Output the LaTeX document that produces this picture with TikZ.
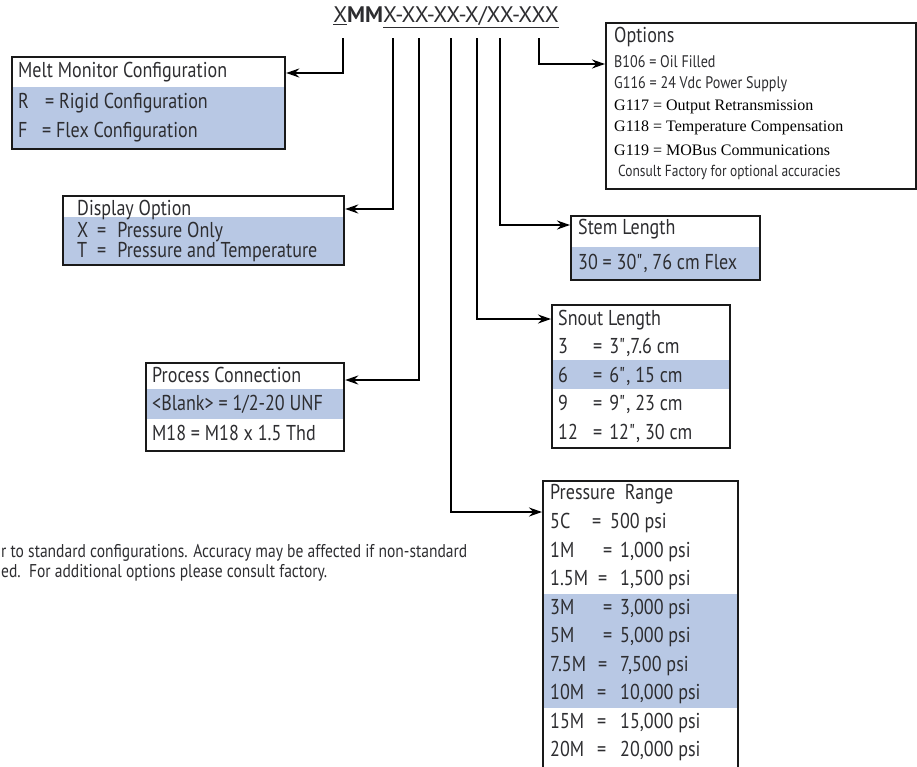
\documentclass[tikz,border=0pt]{standalone}
\usepackage{fontspec}
\setmainfont{PT Sans}[FakeStretch=0.84]
\newfontfamily\codefont{PT Sans}
\newfontfamily\optserif{Liberation Serif}
\usepackage{xcolor}
\usepackage{tikz}
\usetikzlibrary{arrows.meta}
\definecolor{band}{RGB}{184,200,228}
\definecolor{ink}{RGB}{45,45,48}

\begin{document}
\begin{tikzpicture}[x=1pt,y=-1pt,>={Stealth[length=13pt,width=9pt]},
  box/.style={draw=black!90, line width=2.2pt, anchor=north west, inner sep=0pt},
  txt/.style={anchor=west, inner sep=0pt, text=ink, font=\fontsize{21.5}{25}\selectfont},
  small/.style={txt, font=\fontsize{16.8}{19}\selectfont},
  serif/.style={txt, text=black, font=\optserif\fontsize{16}{19}\selectfont},
  lead/.style={line width=1.8pt, ->}]
\useasboundingbox (0,0) rectangle (917,766);
\clip (0,0) rectangle (917,766);

% model code and the points where the leaders start
\node[txt, anchor=center, font=\codefont\fontsize{22.5}{26}\selectfont] (code) at (446,17) {\underline{X}\textbf{MM}\underline{X-XX-XX-X/XX-XXX}};
\coordinate (tcfg) at (343,38);
\coordinate (tdisp) at (393,38);
\coordinate (tproc) at (419,38);
\coordinate (trng) at (451,38);
\coordinate (tsnt) at (477,38);
\coordinate (tstem) at (500,38);
\coordinate (topt) at (539,38);

% shaded rows
\fill[band] (11,87) rectangle (284,148);
\fill[band] (62,217) rectangle (343,264);
\fill[band] (145,389) rectangle (343,419);
\fill[band] (570,247) rectangle (759,279);
\fill[band] (551,360) rectangle (729,389);
\fill[band] (542,594) rectangle (737,708);

% boxes
\node[box, minimum width=273pt, minimum height=92pt] (cfg) at (11,56) {};
\node[box, minimum width=281pt, minimum height=69pt] (disp) at (62,195) {};
\node[box, minimum width=198pt, minimum height=88pt] (proc) at (145,362) {};
\node[box, minimum width=310pt, minimum height=166pt] (opt) at (605,22) {};
\node[box, minimum width=189pt, minimum height=64pt] (stem) at (570,215) {};
\node[box, minimum width=178pt, minimum height=143pt] (snt) at (551,304) {};
\node[box, minimum width=195pt, minimum height=300pt] (rng) at (542,480) {};

% melt monitor configuration
\node[txt] (cfg-h) at (18,72) {Melt Monitor Configuration};
\node[txt] (cfg-r) at (18,103) {\makebox[27pt][l]{R}= Rigid Configuration};
\node[txt] (cfg-f) at (18,132) {\makebox[24pt][l]{F}= Flex Configuration};

% display option
\node[txt] (disp-h) at (77,210) {Display Option};
\node[txt] (disp-x) at (77,232) {\makebox[20pt][l]{X}=\hspace{11pt}Pressure Only};
\node[txt] (disp-t) at (77,252) {\makebox[20pt][l]{T}=\hspace{11pt}Pressure and Temperature};

% process connection
\node[txt] (proc-h) at (152,375) {Process Connection};
\node[txt] (proc-b) at (152,404) {<Blank> = 1/2-20 UNF};
\node[txt] (proc-m) at (152,433) {M18 = M18 x 1.5 Thd};

% options
\node[txt] (opt-h) at (614,37) {Options};
\node[small] (opt-1) at (614,62) {B106 = Oil Filled};
\node[small] (opt-2) at (614,84) {G116 = 24 Vdc Power Supply};
\node[serif] (opt-3) at (614,107) {G117 = Output Retransmission};
\node[serif] (opt-4) at (614,128) {G118 = Temperature Compensation};
\node[serif] (opt-5) at (614,150) {G119 = MOBus Communications};
\node[small, font=\fontsize{16}{19}\selectfont] (opt-6) at (618,172) {Consult Factory for optional accuracies};

% stem length
\node[txt] (stem-h) at (578,229) {Stem Length};
\node[txt] (stem-1) at (578,263) {30 = 30\textquotedbl, 76 cm Flex};

% snout length
\node[txt] (snt-h) at (558,320) {Snout Length};
\foreach \k/\v [count=\i] in {3/{3\textquotedbl,7.6 cm}, 6/{6\textquotedbl, 15 cm}, 9/{9\textquotedbl, 23 cm}, 12/{12\textquotedbl, 30 cm}}
  \node[txt] (snt-\i) at (558,{319+28.5*\i}) {\makebox[35pt][l]{\k}=\hspace{7pt}\v};

% pressure range
\node[txt] (rng-h) at (550,494) {Pressure\ \ Range};
\foreach \k/\w/\t/\v [count=\i] in {5C/42pt/60pt/500, 1M/53pt/70pt/{1,000}, 1.5M/48pt/70pt/{1,500},
    3M/53pt/70pt/{3,000}, 5M/53pt/70pt/{5,000}, 7.5M/48pt/70pt/{7,500},
    10M/47pt/70pt/{10,000}, 15M/47pt/70pt/{15,000}, 20M/47pt/70pt/{20,000}}
  \node[txt] (rng-\i) at (550,{494.5+28.5*\i}) {\makebox[\t][l]{\makebox[\w][l]{\k}=}\v{} psi};

% footnote, cut at the left edge
\node[txt, font=\fontsize{18.5}{20}\selectfont] (note-1) at (1,553) {r to standard configurations. Accuracy may be affected if non-standard};
\node[txt, font=\fontsize{18.5}{20}\selectfont] (note-2) at (1,573) {ed.\ \ For additional options please consult factory.};

% leaders
\draw[lead] (tcfg) |- ([yshift=-17pt]cfg.north east);
\draw[lead] (tdisp) |- ([yshift=-14pt]disp.north east);
\draw[lead] (tproc) |- ([yshift=-18pt]proc.north east);
\draw[lead] (trng) |- ([yshift=-32pt]rng.north west);
\draw[lead] (tsnt) |- ([yshift=-15pt]snt.north west);
\draw[lead] (tstem) |- ([yshift=-10pt]stem.north west);
\draw[lead] (topt) |- ([yshift=-42pt]opt.north west);
\end{tikzpicture}
\end{document}
